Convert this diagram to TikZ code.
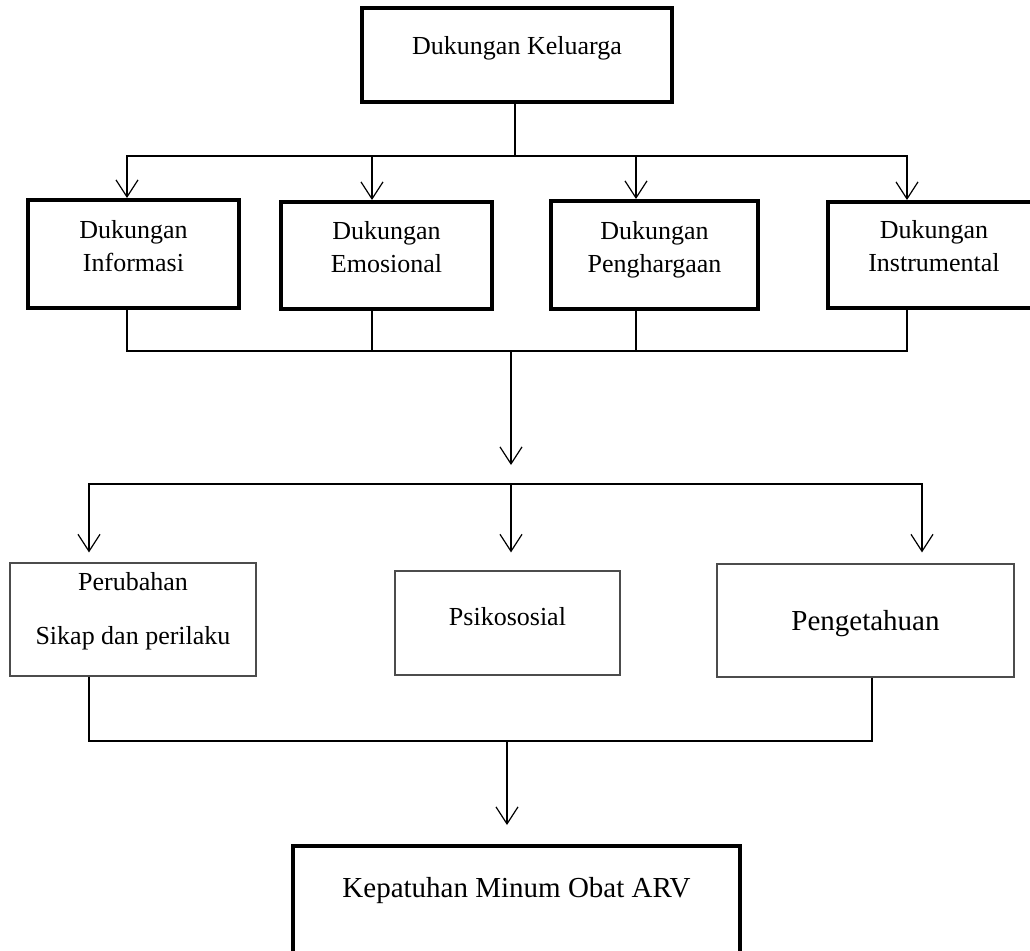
\documentclass[tikz,border=0pt]{standalone}
\usepackage{fontspec}
\setmainfont{Liberation Serif}
\usetikzlibrary{arrows.meta,fit}

\begin{document}
\begin{tikzpicture}
	[ x=0.5pt, y=-0.5pt,
		construct/.style={rectangle,draw,line width=2pt,inner sep=0pt},
		factor/.style={rectangle,draw=black!70,line width=0.6pt,inner sep=0pt},
		caption/.style={align=center,font=\fontsize{13}{16.5}\selectfont},
		captionWide/.style={align=center,font=\fontsize{13}{27}\selectfont},
		captionBig/.style={align=center,font=\fontsize{14.5}{17}\selectfont},
		line/.style={line width=0.6pt},
		arrowOut/.style={-{Straight Barb[length=8.5pt,width=11pt]},line width=0.6pt}]
	\useasboundingbox (0,0) rectangle (1030,950);

	\node[construct,fit={(362,8) (672,102)}] (keluarga) {};
	\node[caption] (keluarga text) at ([yshift=3.5pt]keluarga) {Dukungan Keluarga};

	\node[construct,fit={(28,200) (239,308)}] (informasi) {};
	\node[caption] (informasi text) at ([yshift=4.2pt]informasi) {Dukungan\\Informasi};
	\node[construct,fit={(281,202) (492,309)}] (emosional) {};
	\node[caption] (emosional text) at ([yshift=4.2pt]emosional) {Dukungan\\Emosional};
	\node[construct,fit={(551,201) (758,309)}] (penghargaan) {};
	\node[caption] (penghargaan text) at ([yshift=2.5pt]penghargaan) {Dukungan\\Penghargaan};
	\node[construct,fit={(828,202) (1040,308)}] (instrumental) {};
	\node[caption] (instrumental text) at ([yshift=4.5pt]instrumental) {Dukungan\\Instrumental};

	\node[factor,fit={(10,563) (256,676)}] (sikap) {};
	\node[captionWide] (sikap text) at ([yshift=4.3pt]sikap) {Perubahan\\Sikap dan perilaku};
	\node[factor,fit={(395,571) (620,675)}] (psikososial) {};
	\node[caption] (psikososial text) at ([yshift=3.4pt]psikososial) {Psikososial};
	\node[factor,fit={(717,564) (1014,677)}] (pengetahuan) {};
	\node[captionBig] (pengetahuan text) at ([yshift=-1.3pt]pengetahuan) {Pengetahuan};

	\node[construct,fit={(293,846) (740,970)}] (kepatuhan) {};
	\node[captionBig] (kepatuhan text) at ([yshift=8.5pt]kepatuhan) {Kepatuhan Minum Obat ARV};

	\coordinate (fan top) at (515,156);
	\coordinate (fan mid) at (511,351);
	\coordinate (fan mid end) at (511,465);
	\coordinate (fan low) at (511,484);
	\coordinate (fan bot) at (507,741);

	\draw[line] (keluarga.south -| fan top) -- (fan top);
	\draw[arrowOut] (fan top) -| ([xshift=-3.25pt]informasi.north);
	\draw[arrowOut] (fan top) -| ([xshift=-7.25pt]emosional.north);
	\draw[arrowOut] (fan top) -| ([xshift=-9.25pt]penghargaan.north);
	\draw[arrowOut] (fan top) -| ([xshift=-13.5pt]instrumental.north);

	\draw[line] ([xshift=-3.25pt]informasi.south) |- (fan mid);
	\draw[line] ([xshift=-7.25pt]emosional.south) |- (fan mid);
	\draw[line] ([xshift=-9.25pt]penghargaan.south) |- (fan mid);
	\draw[line] ([xshift=-13.5pt]instrumental.south) |- (fan mid);
	\draw[arrowOut] (fan mid) -- (fan mid end);

	\draw[line] ([xshift=-22pt]sikap.north |- fan low) -- ([xshift=28.25pt]pengetahuan.north |- fan low);
	\draw[arrowOut,shorten >=5pt] (fan low) -| ([xshift=-22pt]sikap.north);
	\draw[arrowOut,shorten >=9pt] (fan low) -- (fan low |- psikososial.north);
	\draw[arrowOut,shorten >=5.5pt] (fan low) -| ([xshift=28.25pt]pengetahuan.north);

	\draw[line] ([xshift=-22pt]sikap.south) |- (fan bot);
	\draw[line] ([xshift=3.25pt]pengetahuan.south) |- (fan bot);
	\draw[arrowOut,shorten >=9.5pt] (fan bot) -- (fan bot |- kepatuhan.north);
\end{tikzpicture}
\end{document}
